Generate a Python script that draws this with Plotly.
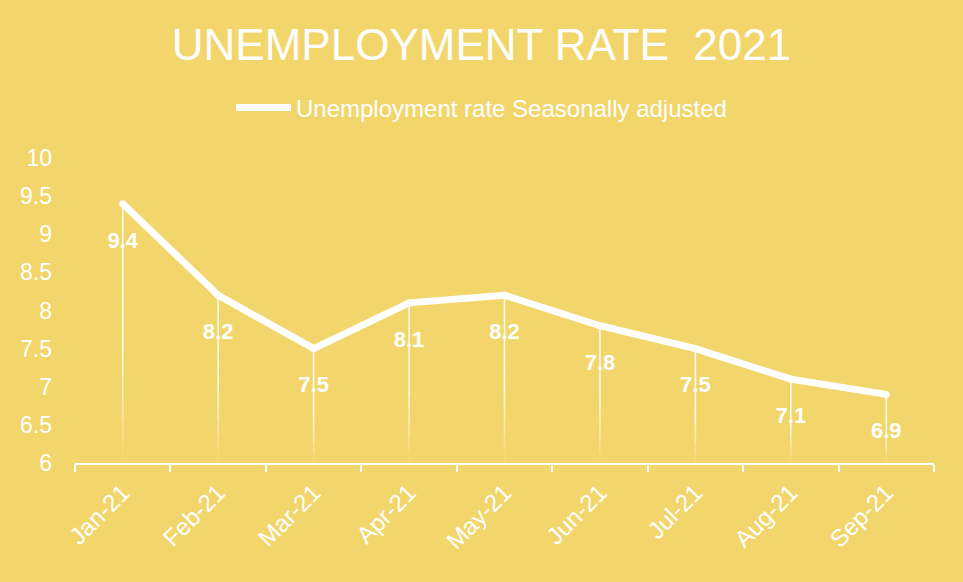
import plotly.graph_objects as go

months = ["Jan-21", "Feb-21", "Mar-21", "Apr-21", "May-21", "Jun-21", "Jul-21", "Aug-21", "Sep-21"]
rate = [9.4, 8.2, 7.5, 8.1, 8.2, 7.8, 7.5, 7.1, 6.9]
y_ticks = [6, 6.5, 7, 7.5, 8, 8.5, 9, 9.5, 10]
y_min, y_max = 6, 10

BG = "#F2D66B"
FONT = "Liberation Sans, Arial, sans-serif"

fig = go.Figure()

# drop lines from each point to the axis, fading toward the bottom
N = 12
for k in range(N):
    xs, ys = [], []
    for m, v in zip(months, rate):
        top = v - (v - y_min) * k / N
        bot = v - (v - y_min) * (k + 1) / N
        xs += [m, m, None]
        ys += [top, bot, None]
    frac = (k + 0.5) / N
    op = 0.9 if frac < 0.55 else max(0.0, 0.9 * (1 - (frac - 0.55) / 0.45))
    fig.add_trace(go.Scatter(x=xs, y=ys, mode="lines",
                             line=dict(color=f"rgba(255,255,255,{op:.3f})", width=1.6),
                             showlegend=False, hoverinfo="skip"))

# main line
fig.add_trace(go.Scatter(x=months, y=rate, mode="lines+markers",
                         name="Unemployment rate Seasonally adjusted",
                         line=dict(color="white", width=7),
                         marker=dict(color="white", size=7)))

# data labels
fig.add_trace(go.Scatter(x=months, y=rate, mode="markers+text",
                         text=[f"{v:g}" for v in rate],
                         textposition="bottom center",
                         textfont=dict(color="white", size=22, family=FONT, weight="bold"),
                         marker=dict(color="rgba(0,0,0,0)", size=42),
                         showlegend=False, hoverinfo="skip"))

fig.update_layout(
    width=963, height=582,
    paper_bgcolor=BG, plot_bgcolor=BG,
    margin=dict(l=75, r=29, t=158, b=119),
    font=dict(family=FONT, color="white"),
    title=dict(text="UNEMPLOYMENT RATE  2021", x=0.5, xref="container", xanchor="center",
               y=1 - 45 / 582, yref="container", yanchor="middle",
               font=dict(size=44, color="white", family=FONT)),
    legend=dict(orientation="h", x=0.5, xref="container", xanchor="center",
                y=1 - 108 / 582, yref="container", yanchor="middle",
                font=dict(size=24, color="white", family=FONT),
                bgcolor="rgba(0,0,0,0)", itemwidth=55),
    xaxis=dict(type="category", range=[-0.5, len(months) - 0.5],
               showline=True, linecolor="white", linewidth=2,
               ticks="outside", tickson="boundaries", tickcolor="white", ticklen=7, tickwidth=2,
               tickangle=-45, tickfont=dict(size=24, color="white"),
               showgrid=False, zeroline=False, ticklabelstandoff=4),
    yaxis=dict(range=[y_min, y_max], tickvals=y_ticks, ticktext=[f"{t:g}" for t in y_ticks],
               showline=False, showgrid=False, zeroline=False, ticks="",
               tickfont=dict(size=23, color="white"), ticklabelstandoff=22),
)

fig.write_html("out.html")
